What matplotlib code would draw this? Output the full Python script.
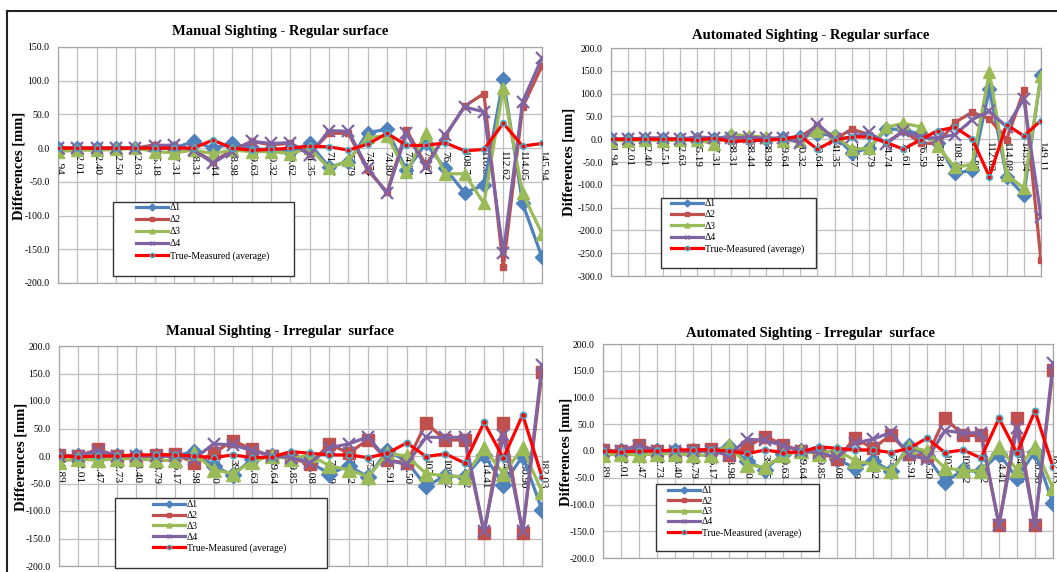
import matplotlib
matplotlib.use("Agg")
import matplotlib.pyplot as plt
from matplotlib.lines import Line2D
from matplotlib.patches import Rectangle

plt.rcParams["font.family"] = ["Liberation Serif", "DejaVu Serif"]
plt.rcParams["axes.unicode_minus"] = False

W, H = 1057, 572

# ---- data ----
cats_reg_man = ["11.94", "12.01", "12.40", "12.50", "12.63", "35.18", "37.31", "38.31", "38.44",
                "38.98", "39.63", "40.32", "40.62", "41.35", "71.57", "73.79", "74.74", "74.80",
                "74.92", "75.61", "76.64", "108.71", "110.85", "112.62", "114.05", "145.94"]
mr_d1 = [0, 0, 0, 0, 0, 0, 0, 10, 0, 7, 0, -3, -5, 7, -28, -20, 23, 28, -33, 7, -30, -66, -55, 102, -82, -162]
mr_d2 = [0, 0, 0, 0, 0, 5, 3, -2, -20, -3, 10, 5, 7, -8, 22, 22, -33, -65, 27, -25, 18, 62, 81, -177, 61, 122]
mr_d3 = [-5, -3, -3, -2, 0, -5, -7, -3, -8, -3, -5, -5, -8, 0, -30, -18, 16, 18, -36, 22, -38, -38, -82, 89, -67, -127]
mr_d4 = [0, 0, 0, 0, 0, 3, 5, -3, -22, -5, 10, 7, 8, -10, 26, 25, -30, -67, 22, -28, 19, 61, 54, -156, 69, 134]
mr_avg = [0, 0, 0, 0, 0, 0, 0, 0, 12, 0, -3, -2, 0, 3, 2, -3, 6, 22, 4, 4, 8, -4, -2, 37, 3, 7]

cats_reg_auto = ["11.94", "12.01", "12.40", "12.51", "12.63", "35.19", "37.31", "38.31", "38.44",
                 "38.98", "39.64", "40.32", "40.64", "41.35", "71.57", "73.79", "74.74", "75.61",
                 "76.59", "76.84", "108.71", "110.85", "112.62", "114.08", "145.94", "149.11"]
ar_d1 = [0, 0, 0, 0, 0, 0, 0, 8, 3, 0, 3, 5, 12, 8, -30, -20, 22, 22, 10, -9, -75, -68, 111, -82, -122, 141]
ar_d2 = [0, 0, 0, 0, 0, 3, 3, -5, -3, -2, 0, 5, 30, 0, 22, 10, -8, 18, -8, -10, 37, 59, 45, -1, 107, -266]
ar_d3 = [-3, -3, -2, -3, -2, -2, -10, 11, 7, 5, -3, -3, 19, 10, -22, -20, 26, 35, 27, -16, -62, -55, 147, -78, -107, 138]
ar_d4 = [0, 0, 3, 3, 0, 5, 3, 3, 5, 2, 3, -8, 34, 0, 5, 15, -10, 18, 3, 3, 10, 43, 61, 27, 88, -171]
ar_avg = [0, 0, 0, 0, 0, -2, 2, -5, -3, -2, 0, 7, -22, -2, 5, 5, -7, -22, -1, 19, 26, 1, -82, 32, 7, 41]

cats_irr = ["11.89", "12.01", "12.47", "12.73", "13.40", "33.79", "36.17", "38.98", "39.00",
            "39.35", "39.63", "39.64", "39.85", "43.08", "70.39", "72.42", "75.61", "75.91",
            "76.50", "107.33", "109.62", "112.72", "114.41", "144.70", "150.90", "182.03"]
mi_d1 = [0, 0, 0, 0, 0, 0, 0, 8, -18, -35, -5, 0, 0, -12, -32, -18, -38, 10, -10, -55, -36, -38, 2, -52, 0, -98]
mi_d2 = [2, 0, 12, 0, -3, 2, 3, -12, 5, 28, 12, 0, -3, -15, 22, 5, 30, -8, -12, 60, 29, 29, -140, 60, -140, 153]
mi_d3 = [-10, -5, -8, -5, -5, -8, -8, 5, -25, -32, -10, 0, -5, 2, -18, -25, -38, 5, 0, -32, -36, -38, 14, -32, 14, -65]
mi_d4 = [0, 0, 10, 0, 0, 0, 0, -5, 22, 20, 10, 0, -3, -12, 15, 22, 35, -8, -15, 34, 34, 34, -137, 38, -137, 165]
mi_avg = [0, -2, 0, 0, 2, 2, 2, 0, -3, 2, -3, -2, 8, 5, 2, 2, -3, 5, 24, -1, 4, -13, 61, -4, 75, -38]

ai_d1 = [0, 0, 0, 0, 0, 0, 0, 8, -18, -35, -5, 0, 0, -15, -32, -18, -38, 10, -10, -58, -36, -38, -5, -51, -1, -98]
ai_d2 = [2, 0, 12, 0, -3, 2, 3, -8, 8, 27, 12, 0, -3, -15, 24, 5, 30, -5, -10, 62, 29, 29, -138, 61, -138, 152]
ai_d3 = [-8, -5, -8, -5, -5, -8, -8, 11, -26, -30, -8, 0, -5, 2, -18, -25, -38, 8, 0, -32, -36, -38, 8, -35, 8, -70]
ai_d4 = [0, 0, 10, 0, 0, 0, 0, -8, 22, 20, 10, 0, -3, -12, 15, 22, 35, -8, -15, 38, 34, 34, -138, 43, -138, 164]
ai_avg = [0, -2, 0, 0, 2, 2, 2, 0, -5, 2, -3, -2, 8, 5, 2, 2, -3, 5, 24, -3, 2, -13, 61, -4, 75, -30]

series_names = ["\u03941", "\u03942", "\u03943", "\u03944", "True-Measured (average)"]
colors = ["#4F81BD", "#C0504D", "#9BBB59", "#8064A2", "#FF0000"]
markers = ["D", "s", "^", "x", "o"]


def fx(x):
    return x / W


def fy(y):
    return 1 - y / H


def box(x0, y0, x1, y1):
    return [fx(x0), fy(y1), (x1 - x0) / W, (y1 - y0) / H]


fig = plt.figure(figsize=(W / 100, H / 100), dpi=100)

panels = [
    dict(rect=box(58, 47, 542, 283), cats=cats_reg_man, data=[mr_d1, mr_d2, mr_d3, mr_d4, mr_avg],
         ylim=(-200, 150), title="Manual Sighting - Regular surface", tpos=(280, 31), ylab=(19, 166),
         leg=(113, 202, 294, 276), hx=136, row0=209, pitch=14.7, big=False),
    dict(rect=box(611, 48, 1041, 276), cats=cats_reg_auto, data=[ar_d1, ar_d2, ar_d3, ar_d4, ar_avg],
         ylim=(-300, 200), title="Automated Sighting - Regular surface", tpos=(811, 35), ylab=(569, 162),
         leg=(661, 198, 816, 268), hx=671, row0=205, pitch=14.0, big=False),
    dict(rect=box(59, 346, 542, 566), cats=cats_irr, data=[mi_d1, mi_d2, mi_d3, mi_d4, mi_avg],
         ylim=(-200, 200), title="Manual Sighting - Irregular  surface", tpos=(280, 332), ylab=(21, 457),
         leg=(115, 498, 327, 568), hx=153, row0=506, pitch=13.5, big=True),
    dict(rect=box(603, 344, 1053, 558), cats=cats_irr, data=[ai_d1, ai_d2, ai_d3, ai_d4, ai_avg],
         ylim=(-200, 200), title="Automated Sighting - Irregular  surface", tpos=(810, 333), ylab=(566, 452),
         leg=(656, 484, 819, 551), hx=668, row0=492, pitch=13.1, big=True),
]

for p in panels:
    ax = fig.add_axes(p["rect"])
    n = len(p["cats"])
    xs = list(range(n))
    if p["big"]:
        msz = [8, 9, 10, 9, 4.5]
    else:
        msz = [7, 5, 8, 8, 4]
    for k in range(5):
        if k == 4:
            ax.plot(xs, p["data"][k], color=colors[k], lw=2.3, marker="o", ms=msz[k],
                    mfc="#FF0000", mec="#4BACC6", mew=1.2, zorder=3 + k)
        elif k == 3:
            ax.plot(xs, p["data"][k], color=colors[k], lw=2.3, marker="x", ms=msz[k],
                    mew=1.6, zorder=3 + k)
        else:
            ax.plot(xs, p["data"][k], color=colors[k], lw=2.3, marker=markers[k], ms=msz[k],
                    mec=colors[k], zorder=3 + k)
    lo, hi = p["ylim"]
    ax.set_ylim(lo, hi)
    ax.set_xlim(0, n - 1)
    ax.set_yticks(range(lo, hi + 1, 50))
    ax.set_yticklabels(["%.1f" % v for v in range(lo, hi + 1, 50)], fontsize=7)
    ax.set_xticks(xs)
    ax.set_xticklabels([])
    ax.tick_params(length=0, pad=6)
    ax.grid(True, color="#BFBFBF", lw=0.9)
    ax.set_axisbelow(True)
    for s in ax.spines.values():
        s.set_color("#A6A6A6")
        s.set_linewidth(0.9)
    for i, lab in enumerate(p["cats"]):
        ax.annotate(lab, xy=(i, 0), xytext=(0, -2), textcoords="offset points",
                    rotation=270, ha="center", va="top", fontsize=8, zorder=2)

    fig.text(fx(p["tpos"][0]), fy(p["tpos"][1]), p["title"], ha="center", va="center",
             fontsize=10.5, fontweight="bold")
    fig.text(fx(p["ylab"][0]), fy(p["ylab"][1]), "Differences [mm]", ha="center", va="center",
             rotation=90, fontsize=10.5, fontweight="bold")

    # legend box
    x0, y0, x1, y1 = p["leg"]
    fig.add_artist(Rectangle((fx(x0), fy(y1)), (x1 - x0) / W, (y1 - y0) / H, transform=fig.transFigure,
                             facecolor="white", edgecolor="#333333", lw=1.0, zorder=4))
    handles = []
    for k in range(5):
        if k == 4:
            h = Line2D([], [], color=colors[k], lw=2.3, marker="o", ms=3, mfc="#FF0000", mec="#4BACC6")
        else:
            h = Line2D([], [], color=colors[k], lw=2.3, marker=markers[k], ms=3.5, mec=colors[k])
        handles.append(h)
    fs_px = 7 * 100 / 72
    lsp = (p["pitch"] - fs_px * 1.2) / fs_px
    fig.legend(handles, series_names, loc="upper left",
               bbox_to_anchor=(fx(p["hx"]), fy(p["row0"] - 0.6 * fs_px)), bbox_transform=fig.transFigure,
               frameon=False, borderpad=0, borderaxespad=0, handlelength=3.3, handletextpad=0.2,
               labelspacing=max(lsp, 0.1), fontsize=7).set_zorder(5)

# outer frame of the page
fig.add_artist(Line2D([fx(7), 1], [fy(11), fy(11)], transform=fig.transFigure, color="#222222", lw=1.5))
fig.add_artist(Line2D([fx(7), fx(7)], [fy(11), 0], transform=fig.transFigure, color="#222222", lw=1.5))

fig.savefig("out.png", dpi=100)
